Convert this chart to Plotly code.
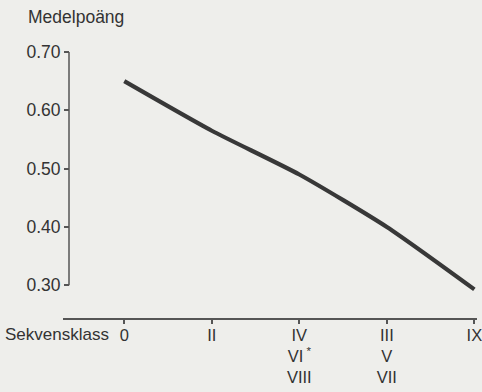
import plotly.graph_objects as go

# Data
categories = ["0", "II", "IV<br>VI<sup> *</sup><br>VIII", "III<br>V<br>VII", "IX"]
x_positions = [0, 1, 2, 3, 4]
medelpoang = [0.65, 0.565, 0.49, 0.40, 0.293]
y_ticks = [0.30, 0.40, 0.50, 0.60, 0.70]
y_ticktext = ["0.30", "0.40", "0.50", "0.60", "0.70"]

W, H = 482, 392
L, R, T, B = 63, 5, 40, 74
plot_w = W - L - R
plot_h = H - T - B

bg = "#eeeeeb"
ink = "#333333"
font = "Liberation Sans, Arial, sans-serif"
fs = 17.5

fig = go.Figure()
fig.add_trace(go.Scatter(
    x=x_positions, y=medelpoang, mode="lines",
    line=dict(color="#383838", width=4.2, shape="spline", smoothing=0.6),
    hoverinfo="skip", showlegend=False, cliponaxis=False,
))

yaxis_x = (69 - L) / plot_w

fig.update_layout(
    width=W, height=H,
    margin=dict(l=L, r=R, t=T, b=B, autoexpand=False),
    paper_bgcolor=bg, plot_bgcolor=bg,
    font=dict(family=font, size=fs, color=ink),
    xaxis=dict(
        range=[-0.7, 4.03],
        tickvals=x_positions, ticktext=categories,
        ticklabeloverflow="allow", automargin=False,
        ticklabelstandoff=-3,
        tickfont=dict(family=font, size=16.5, color=ink),
        showline=True, linecolor="#555555", linewidth=1.5,
        ticks="outside", ticklen=4, tickwidth=1.5, tickcolor="#555555",
        showgrid=False, zeroline=False, fixedrange=True,
    ),
    yaxis=dict(
        range=[0.244, 0.7206],
        tickvals=y_ticks, ticktext=y_ticktext,
        anchor="free", position=yaxis_x, automargin=False,
        showline=False,
        ticks="outside", ticklen=5, tickwidth=1.5, tickcolor="#555555",
        showgrid=False, zeroline=False, fixedrange=True,
    ),
    shapes=[dict(
        type="line", xref="paper", yref="y",
        x0=yaxis_x, x1=yaxis_x, y0=y_ticks[0], y1=y_ticks[-1],
        line=dict(color="#555555", width=1.5),
    )],
    annotations=[
        dict(text="Medelpoäng", xref="paper", yref="paper",
             x=(26 - L) / plot_w, y=1 + (T - 17) / plot_h,
             xanchor="left", yanchor="middle", showarrow=False,
             font=dict(family=font, size=fs, color=ink)),
        dict(text="Sekvensklass", xref="paper", yref="paper",
             x=(111 - L) / plot_w, y=(318 - 334) / plot_h,
             xanchor="right", yanchor="middle", showarrow=False,
             font=dict(family=font, size=17, color=ink)),
    ],
)

fig.write_html("out.html", config={"displayModeBar": False})

# remove default page margin so the figure sits at the window's top-left
with open("out.html", "r", encoding="utf-8") as f:
    html = f.read()
html = html.replace("<head>", "<head><style>html,body{margin:0;padding:0;background:#eeeeeb;overflow:hidden;}</style>", 1)
with open("out.html", "w", encoding="utf-8") as f:
    f.write(html)
